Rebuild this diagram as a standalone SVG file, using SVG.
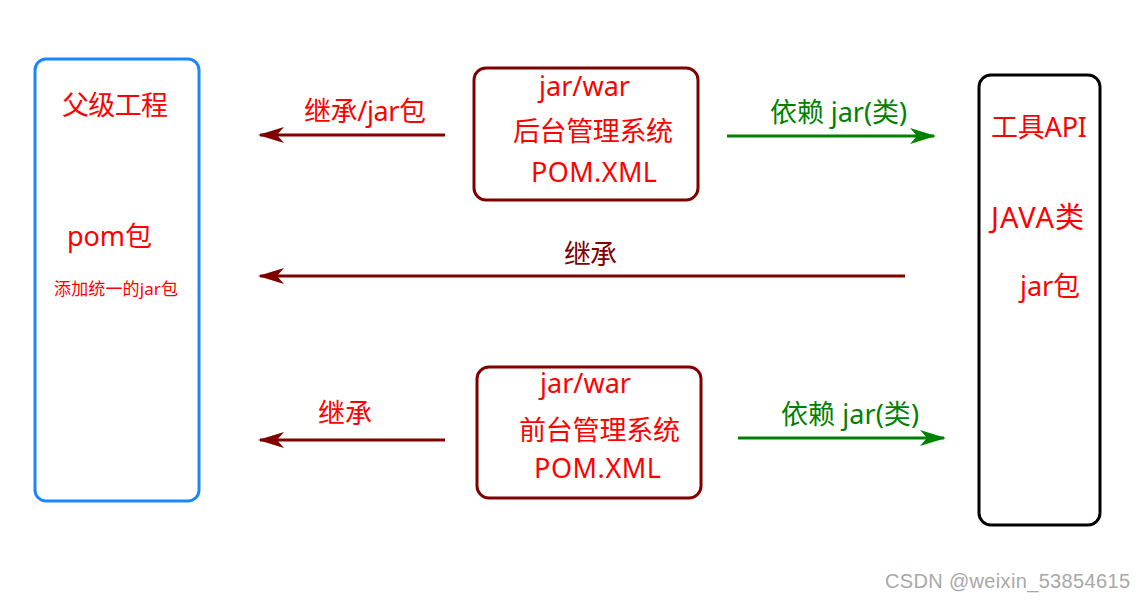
<svg xmlns="http://www.w3.org/2000/svg" width="1146" height="600" viewBox="0 0 1146 600">
<defs>
<style>
text{font-family:"Noto Sans","Noto Sans CJK SC",sans-serif;font-size:27px;}
.r{fill:#ff0000;}
.g{fill:#008000;}
.dr{fill:#800000;}
.box{fill:#ffffff;stroke-width:3;}
.l{stroke-width:3;fill:none;}
</style>
<marker id="ar" viewBox="0 0 26 16" refX="24" refY="8" markerUnits="userSpaceOnUse" markerWidth="26" markerHeight="16" orient="auto">
<path d="M26,8 L0,0 L7,8 L0,16 Z" fill="#800000"/>
</marker>
<marker id="ag" viewBox="0 0 26 16" refX="24" refY="8" markerUnits="userSpaceOnUse" markerWidth="26" markerHeight="16" orient="auto">
<path d="M26,8 L0,0 L7,8 L0,16 Z" fill="#008000"/>
</marker>
</defs>
<rect width="1146" height="600" fill="#ffffff"/>
<g id="connectors">
<line class="l" x1="445" y1="135" x2="260" y2="135" stroke="#800000" marker-end="url(#ar)"/>
<text class="r" x="304" y="121" textLength="122">继承/jar包</text>
<line class="l" x1="727" y1="136" x2="934" y2="136" stroke="#008000" marker-end="url(#ag)"/>
<text class="g" x="770" y="122" textLength="137">依赖 jar(类)</text>
<line class="l" x1="905" y1="276" x2="260" y2="276" stroke="#800000" marker-end="url(#ar)"/>
<text class="dr" x="564" y="264" textLength="53">继承</text>
<line class="l" x1="445" y1="440" x2="260" y2="440" stroke="#800000" marker-end="url(#ar)"/>
<text class="r" x="318" y="423" textLength="54">继承</text>
<line class="l" x1="738" y1="438" x2="944" y2="438" stroke="#008000" marker-end="url(#ag)"/>
<text class="g" x="781" y="424" textLength="138">依赖 jar(类)</text>
</g>
<g id="parent">
<rect class="box" x="35" y="59" width="164" height="442" rx="11" stroke="#1a86ff"/>
<text class="r" x="62" y="115" textLength="106">父级工程</text>
<text class="r" x="67" y="246" textLength="85">pom包</text>
<text class="r" x="54" y="295" style="font-size:17px" textLength="124">添加统一的jar包</text>
</g>
<g id="backend">
<rect class="box" x="474" y="68" width="224" height="132" rx="12" stroke="#800000"/>
<text class="r" x="539" y="96" textLength="91">jar/war</text>
<text class="r" x="513" y="141" textLength="160">后台管理系统</text>
<text class="r" x="531" y="182" textLength="126">POM.XML</text>
</g>
<g id="frontend">
<rect class="box" x="477" y="367" width="224" height="131" rx="12" stroke="#800000"/>
<text class="r" x="540" y="393" textLength="91">jar/war</text>
<text class="r" x="519" y="440" textLength="161">前台管理系统</text>
<text class="r" x="534" y="478" textLength="127">POM.XML</text>
</g>
<g id="tools">
<rect class="box" x="979" y="75" width="121" height="450" rx="12" stroke="#000000"/>
<text class="r" x="991" y="137" textLength="96">工具API</text>
<text class="r" x="991" y="228" style="font-size:29px" textLength="93">JAVA类</text>
<text class="r" x="1020" y="296" textLength="60">jar包</text>
</g>
<text x="885" y="588" fill="#a8a8a8" style="font-family:'Liberation Sans',sans-serif;font-size:20px" textLength="245">CSDN @weixin_53854615</text>
</svg>
